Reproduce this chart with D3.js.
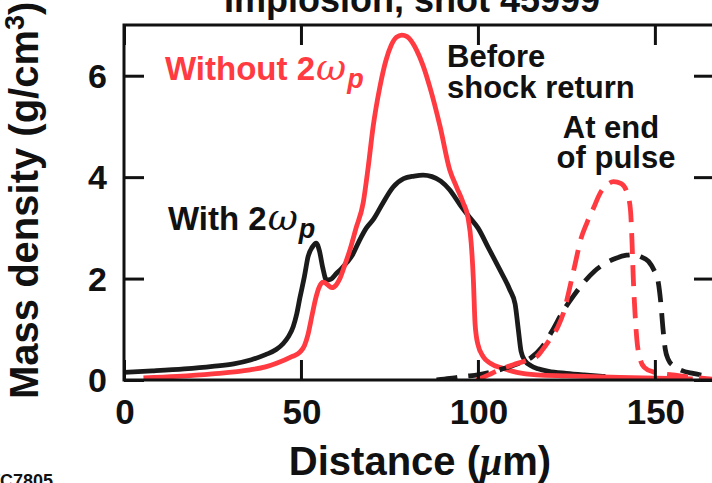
<!DOCTYPE html>
<html>
<head>
<meta charset="utf-8">
<script src="https://cdn.jsdelivr.net/npm/d3@7/dist/d3.min.js"></script>
<style>
  html, body { margin: 0; padding: 0; background: #fff; }
  svg { display: block; }
  text { font-family: "Liberation Sans", Arial, Helvetica, sans-serif; font-weight: bold; }
</style>
</head>
<body>
<svg id="chart" width="712" height="483"></svg>
<script>
// Distance axis (µm) and density axis (g/cm^3) ticks
const xTicks = [0, 50, 100, 150];
const yTicks = [0, 2, 4, 6];

// With 2ωp, before shock return (solid black)
const withBeforeX = [0, 8, 17, 25, 31, 36, 40, 43, 45, 46.5, 47.8, 48.8, 49.7, 51, 52, 53.2, 54.3, 55.2, 56.2, 57.2, 58.5, 60, 61.5, 63, 64.5, 66.5, 68.5, 70.5, 73, 76, 79, 82, 84.5, 87, 89.5, 92, 95, 97.5, 100, 103, 106, 109, 110.5, 111.4, 112.2, 113.3, 115, 117, 120, 125, 130, 136];
const withBeforeY = [0.15, 0.18, 0.22, 0.27, 0.32, 0.4, 0.5, 0.6, 0.72, 0.86, 1.05, 1.3, 1.62, 2.05, 2.43, 2.62, 2.7, 2.55, 2.2, 1.97, 1.99, 2.1, 2.2, 2.32, 2.46, 2.75, 3.0, 3.17, 3.47, 3.8, 3.97, 4.02, 4.04, 4.01, 3.92, 3.75, 3.45, 3.22, 3.0, 2.6, 2.2, 1.78, 1.5, 1.0, 0.56, 0.38, 0.28, 0.22, 0.17, 0.13, 0.1, 0.07];

// Without 2ωp, before shock return (solid red)
const withoutBeforeX = [5.5, 15, 25, 35.6, 40, 43.1, 47.4, 49.7, 51, 52, 53.2, 54.2, 55.2, 56.3, 57.5, 58.7, 60, 61, 62.3, 63.8, 65.5, 67.6, 69, 70.4, 72.3, 74, 75.5, 77, 78.5, 80, 82.7, 84.5, 86.4, 89.3, 92, 94, 95.8, 97.2, 98.1, 98.7, 99.2, 100, 101.5, 103.5, 107, 111, 116.6, 125, 140, 160.7];
const withoutBeforeY = [0.04, 0.07, 0.12, 0.2, 0.26, 0.33, 0.46, 0.55, 0.68, 0.9, 1.3, 1.62, 1.84, 1.93, 1.88, 1.82, 1.88, 2.0, 2.25, 2.56, 2.98, 3.5, 4.2, 5.0, 5.78, 6.3, 6.6, 6.76, 6.8, 6.77, 6.5, 6.2, 5.78, 5.0, 4.15, 3.8, 3.5, 3.2, 2.7, 2.0, 1.1, 0.7, 0.46, 0.33, 0.23, 0.15, 0.1, 0.08, 0.05, 0.02];

// With 2ωp, at end of pulse (dashed black)
const withEndX = [88.3, 92, 96, 100, 104, 108, 112, 115, 118, 121, 124, 127, 130, 133, 136, 139, 142, 144, 146, 148.2, 149.8, 150.9, 151.7, 152.3, 152.9, 153.8, 155.2, 157.5, 160.8, 167];
const withEndY = [0, 0.03, 0.07, 0.1, 0.16, 0.24, 0.34, 0.44, 0.64, 0.97, 1.35, 1.66, 1.93, 2.15, 2.3, 2.4, 2.46, 2.47, 2.43, 2.34, 2.16, 1.95, 1.5, 1.0, 0.62, 0.4, 0.28, 0.19, 0.13, 0.06];

// Without 2ωp, at end of pulse (dashed red)
const withoutEndX = [99.6, 103, 106, 110, 113.5, 116.6, 118.5, 120.5, 122.6, 124.5, 126, 127.5, 129, 130.8, 132.6, 134.5, 136.5, 138.3, 140.5, 142.2, 143.1, 143.5, 143.9, 144.4, 144.9, 145.8, 147, 149.5, 155, 160, 167];
const withoutEndY = [0, 0.1, 0.2, 0.3, 0.38, 0.46, 0.62, 0.82, 1.05, 1.4, 1.84, 2.3, 2.76, 3.1, 3.38, 3.68, 3.85, 3.91, 3.87, 3.68, 3.35, 2.8, 2.0, 1.3, 0.8, 0.42, 0.25, 0.16, 0.1, 0.06, 0.01];

const RED = "#ff3a40";
const BLACK = "#1b1b1b";

const svg = d3.select("#chart");

const plot = { left: 124, right: 714, top: 25, bottom: 380 };
const x = d3.scaleLinear().domain([0, 166.7]).range([plot.left, plot.right]);
const y = d3.scaleLinear().domain([0, 7]).range([plot.bottom, plot.top]);

// Title (top of figure)
svg.append("text")
  .attr("x", 412).attr("y", 12)
  .attr("text-anchor", "middle")
  .attr("font-size", 36)
  .attr("fill", "#111")
  .text("Implosion, shot 45999");

// Clip region for the curves
svg.append("clipPath").attr("id", "plotClip")
  .append("rect")
  .attr("x", plot.left).attr("y", plot.top)
  .attr("width", plot.right - plot.left).attr("height", plot.bottom - plot.top);

const line = d3.line()
  .x(d => x(d[0]))
  .y(d => y(d[1]))
  .curve(d3.curveMonotoneX);

const series = [
  { xs: withBeforeX, ys: withBeforeY, color: BLACK, dash: null },
  { xs: withoutBeforeX, ys: withoutBeforeY, color: RED, dash: null },
  { xs: withEndX, ys: withEndY, color: BLACK, dash: "21,11" },
  { xs: withoutEndX, ys: withoutEndY, color: RED, dash: "21,11" }
];

const curves = svg.append("g").attr("clip-path", "url(#plotClip)");
series.forEach(s => {
  curves.append("path")
    .datum(s.xs.map((v, i) => [v, s.ys[i]]))
    .attr("d", line)
    .attr("fill", "none")
    .attr("stroke", s.color)
    .attr("stroke-width", 4.8)
    .attr("stroke-linejoin", "round")
    .attr("stroke-dasharray", s.dash);
});

// Frame with inward ticks on all four sides
const frame = svg.append("g");
frame.append("rect")
  .attr("x", plot.left).attr("y", plot.top)
  .attr("width", plot.right - plot.left).attr("height", plot.bottom - plot.top)
  .attr("fill", "none").attr("stroke", "#111").attr("stroke-width", 3);

const tickLen = 20;
frame.append("g").attr("transform", `translate(0,${plot.bottom})`)
  .call(d3.axisTop(x).tickValues(xTicks).tickSize(tickLen).tickFormat(""))
  .call(g => g.select(".domain").remove());
frame.append("g").attr("transform", `translate(0,${plot.top})`)
  .call(d3.axisBottom(x).tickValues(xTicks).tickSize(tickLen).tickFormat(""))
  .call(g => g.select(".domain").remove());
frame.append("g").attr("transform", `translate(${plot.left},0)`)
  .call(d3.axisRight(y).tickValues(yTicks).tickSize(tickLen).tickFormat(""))
  .call(g => g.select(".domain").remove());
frame.append("g").attr("transform", `translate(${plot.right},0)`)
  .call(d3.axisLeft(y).tickValues(yTicks).tickSize(tickLen).tickFormat(""))
  .call(g => g.select(".domain").remove());
frame.selectAll(".tick line").attr("stroke", "#111").attr("stroke-width", 3);

// Tick labels
svg.append("g").selectAll("text").data(xTicks).join("text")
  .attr("x", d => x(d) + 1).attr("y", 424)
  .attr("text-anchor", "middle")
  .attr("font-size", 35).attr("fill", "#111")
  .text(d => d);
svg.append("g").selectAll("text").data(yTicks).join("text")
  .attr("x", 107).attr("y", d => y(d) + 12)
  .attr("text-anchor", "end")
  .attr("font-size", 34).attr("fill", "#111")
  .text(d => d);

// Axis titles
const xTitle = svg.append("text")
  .attr("x", 420).attr("y", 475)
  .attr("text-anchor", "middle")
  .attr("font-size", 40).attr("fill", "#111");
xTitle.append("tspan").text("Distance (");
xTitle.append("tspan").attr("font-family", "Liberation Serif, serif").attr("font-style", "italic").text("μ");
xTitle.append("tspan").text("m)");

const yTitle = svg.append("text")
  .attr("transform", "translate(38,399) rotate(-90)")
  .attr("text-anchor", "start")
  .attr("font-size", 40).attr("fill", "#111");
yTitle.append("tspan").text("Mass density (g/cm");
yTitle.append("tspan").attr("font-size", 27).attr("dy", -14).text("3");
yTitle.append("tspan").attr("dy", 14).text(")");

// Curve annotations
function omegaLabel(xPos, yPos, prefix, color, size) {
  const t = svg.append("text")
    .attr("x", xPos).attr("y", yPos)
    .attr("font-size", size).attr("fill", color);
  t.append("tspan").text(prefix);
  t.append("tspan").attr("dx", 1)
    .attr("font-family", "DejaVu Serif, Liberation Serif, serif")
    .attr("font-style", "italic").attr("font-weight", "normal")
    .attr("font-size", size * 1.12).text("ω");
  t.append("tspan").attr("dx", 1).attr("font-style", "italic")
    .attr("font-size", size * 0.82).attr("dy", 8).text("p");
}
omegaLabel(165, 80, "Without 2", RED, 33);
omegaLabel(168, 230, "With 2", "#111", 33);

// Two-line notes, each kept in a single text element
function note(lines, xPos, yPos, anchor) {
  const t = svg.append("text")
    .attr("x", xPos).attr("y", yPos)
    .attr("text-anchor", anchor)
    .attr("font-size", 31).attr("fill", "#111");
  lines.forEach((l, i) => {
    t.append("tspan")
      .attr("x", l.x)
      .attr("dy", i === 0 ? 0 : l.dy)
      .text(l.text);
  });
}
note([{ text: "Before", x: 447 }, { text: "shock return", x: 447, dy: 31 }], 447, 67, "start");
note([{ text: "At end", x: 611 }, { text: "of pulse", x: 616, dy: 30 }], 611, 138, "middle");

// Figure number
svg.append("text").attr("x", 53).attr("y", 487)
  .attr("text-anchor", "end")
  .attr("font-size", 18).attr("fill", "#111").text("TC7805");
</script>
</body>
</html>
